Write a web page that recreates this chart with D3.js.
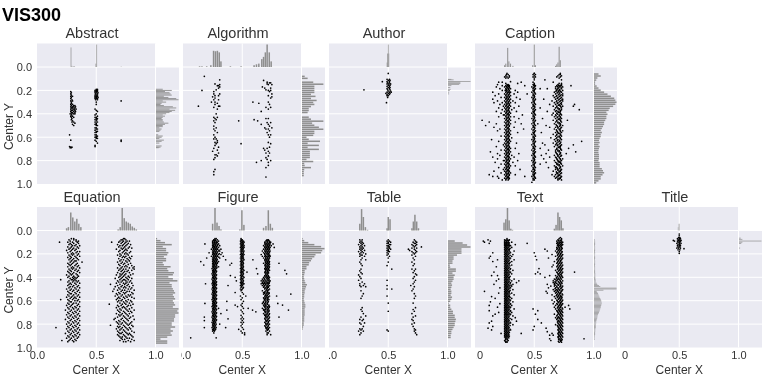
<!DOCTYPE html>
<html>
<head>
<meta charset="utf-8">
<script src="https://d3js.org/d3.v7.min.js"></script>
<style>
    html, body { margin: 0; padding: 0; background: #fff; }
    svg { filter: blur(0.35px); }
    text { font-family: "Liberation Sans", Arial, sans-serif; fill: #333; }
</style>
</head>
<body>
<div id="chart"></div>
<script>
// each row is [centerY, centerX, centerX, ...]
var abstractRows = [
    [.19,.5,.51],[.2,.49,.5,.51],[.21,.285,.49,.5,.51],[.22,.29,.49,.5,.515],[.23,.285,.495,.51],[.24,.29,.49,.5,.51],
    [.25,.285,.3,.49,.5,.51],[.26,.29,.49,.5,.515],[.27,.285,.49,.5,.51],[.28,.295,.495,.51],[.29,.285,.3,.71],[.3,.29,.5],
    [.31,.29],[.32,.285,.3,.5],[.33,.29,.31,.32],[.34,.285,.3,.31,.325],[.35,.29,.3,.32],[.36,.285,.305,.315,.33,.49],
    [.37,.29,.3,.32,.5],[.38,.285,.31,.325,.51],[.39,.29,.3,.32],[.4,.28,.295,.31,.32,.5],[.41,.29,.49],[.42,.285,.3,.51],
    [.43,.29,.31,.49,.5],[.44,.295,.5,.51],[.45,.29,.49,.505],[.46,.3,.5],[.47,.295,.31,.49,.51],[.48,.32,.5],[.49,.3,.49,.5],
    [.5,.31,.5,.51],[.52,.49,.5],[.53,.5,.51],[.54,.49],[.55,.5,.51],[.56,.49,.5],[.58,.275,.49,.5],[.59,.5,.51],[.6,.49,.5],
    [.61,.5,.51],[.625,.285,.49,.71],[.635,.5,.71],[.65,.51],[.67,.49],[.68,.275,.49],[.685,.285,.295],[.69,.28,.29]
];
var algorithmRows = [
    [.08,.18],[.11,.31],[.115,.68],[.13,.71],[.135,.73,.74],[.145,.27,.71],[.15,.31,.75,.72],[.16,.29,.3],[.17,.31,.67],
    [.18,.3,.69,.74],[.195,.28,.7],[.2,.16,.74,.72],[.21,.26,.73],[.23,.26,.31,.75],[.245,.27,.3,.72],[.255,.25,.75],
    [.265,.27,.74],[.28,.26,.3],[.3,.24,.27,.59,.72],[.31,.29,.64],[.32,.27,.73],[.335,.13,.3,.31],[.345,.26,.7,.74],
    [.36,.29,.72],[.38,.66],[.4,.28],[.43,.26,.29],[.44,.27,.7,.72],[.45,.28,.6],[.46,.26,.47,.63],[.475,.27,.71,.74],
    [.49,.66,.72],[.505,.26,.73],[.52,.28,.69,.75],[.53,.26,.7,.72],[.545,.27,.73],[.56,.29,.71],[.58,.26,.72,.74],
    [.6,.27,.73],[.615,.26,.28],[.63,.29],[.645,.27,.29,.72],[.655,.28,.49,.74],[.67,.27],[.685,.3,.73],[.695,.26,.71,.68],
    [.71,.29,.69],[.72,.25,.72],[.735,.3,.73,.7],[.75,.27,.28],[.76,.29,.72],[.775,.27,.7],[.79,.26,.71],[.8,.66,.74],
    [.815,.62,.72],[.84,.72],[.86,.7],[.875,.27],[.895,.26],[.92,.26],[.94,.7]
];
var authorRows = [
    [.055,.5],[.105,.49,.51],[.115,.5,.515],[.125,.45,.49,.51],[.135,.495,.51],[.145,.49,.505,.52],[.155,.5,.515],[.165,.49,.51],
    [.175,.5,.515],[.185,.49,.51],[.195,.295,.495,.515],[.205,.5,.52],[.215,.49,.51,.525],[.225,.48,.5,.515],[.235,.49,.51],
    [.245,.5,.49],[.26,.495],[.305,.485]
];
var captionRows = [
    [.055,.27,.5,.5,.72],[.065,.265,.28,.49,.51,.72,.71],[.075,.26,.29,.5,.7,.73],[.085,.25,.27,.29,.49,.51,.69,.72],
    [.095,.26,.28,.5,.71],[.11,.5,.59,.73],[.125,.3],[.13,.2,.23,.49,.39,.66],[.14,.26,.36,.5,.71,.73],[.15,.19,.27,.28,.49,.5,.7,.73],
    [.16,.23,.26,.28,.29,.5,.51,.42,.69,.71,.73,.81],[.17,.18,.25,.27,.29,.48,.5,.68,.71,.74],
    [.185,.21,.26,.28,.3,.49,.51,.61,.68,.7,.73,.55],[.2,.23,.255,.27,.29,.34,.49,.5,.69,.71,.74],
    [.215,.15,.26,.28,.3,.36,.48,.5,.67,.7,.73],[.23,.2,.25,.27,.29,.33,.49,.51,.68,.71,.74,.44],
    [.245,.17,.26,.28,.3,.49,.5,.66,.69,.72,.74],[.26,.22,.25,.27,.29,.35,.48,.5,.67,.7,.73],
    [.275,.15,.26,.28,.3,.38,.49,.51,.58,.68,.71,.74],[.29,.19,.25,.27,.29,.32,.49,.5,.65,.69,.72,.74],
    [.305,.16,.23,.26,.28,.3,.34,.48,.5,.67,.7,.73],[.32,.21,.25,.27,.29,.49,.51,.63,.68,.71,.73,.84],
    [.335,.24,.26,.28,.3,.37,.49,.5,.66,.69,.72,.74,.83],[.35,.2,.25,.27,.29,.33,.48,.5,.55,.68,.7,.73],
    [.365,.23,.26,.28,.31,.49,.51,.67,.71,.73,.88],[.38,.18,.25,.27,.29,.35,.49,.5,.61,.68,.7,.72],
    [.395,.22,.26,.28,.3,.48,.5,.66,.69,.72],[.41,.24,.25,.27,.29,.4,.49,.51,.65,.68,.71,.73],
    [.425,.2,.26,.28,.3,.33,.49,.5,.67,.7,.72],[.44,.25,.27,.29,.37,.48,.5,.57,.68,.71,.73],
    [.455,.06,.26,.28,.3,.49,.51,.66,.69,.72,.78],[.47,.12,.25,.27,.29,.34,.49,.5,.68,.7,.73],
    [.485,.18,.26,.28,.3,.39,.48,.5,.53,.67,.71,.72],[.5,.09,.25,.27,.29,.49,.51,.69,.72,.74,.6],
    [.515,.16,.26,.28,.33,.49,.5,.63,.68,.7,.73],[.53,.21,.25,.27,.29,.41,.48,.5,.67,.71,.72],
    [.545,.19,.26,.28,.3,.49,.51,.69,.72,.74],[.56,.25,.27,.29,.36,.49,.5,.56,.68,.7,.73],
    [.575,.26,.28,.3,.48,.5,.66,.69,.72],[.59,.22,.25,.27,.29,.49,.51,.68,.71,.73],
    [.605,.26,.28,.31,.49,.5,.64,.69,.72],[.62,.14,.25,.27,.29,.48,.5,.67,.7,.73],
    [.635,.2,.26,.28,.3,.49,.51,.68,.71,.9],[.65,.25,.27,.29,.35,.49,.5,.57,.66,.69,.72],
    [.665,.24,.26,.28,.48,.5,.59,.68,.7,.73,.83],[.68,.18,.25,.27,.29,.49,.51,.67,.71,.72],
    [.695,.26,.28,.3,.34,.49,.5,.55,.69,.72,.79],[.71,.22,.25,.27,.29,.48,.5,.62,.68,.7,.73],
    [.725,.13,.26,.28,.3,.49,.51,.68,.71,.85],[.74,.19,.25,.27,.29,.37,.49,.5,.6,.69,.72,.77],
    [.755,.21,.26,.28,.31,.48,.5,.56,.67,.7,.73],[.77,.15,.25,.27,.29,.33,.49,.51,.63,.68,.71],
    [.785,.19,.26,.28,.3,.49,.5,.58,.69,.72,.74],[.8,.24,.25,.27,.29,.36,.48,.5,.67,.7,.73],
    [.815,.17,.26,.28,.32,.49,.51,.6,.68,.71,.72],[.83,.22,.25,.27,.29,.49,.5,.55,.69,.7,.73],
    [.845,.26,.28,.3,.34,.48,.5,.67,.71,.74],[.86,.2,.25,.27,.29,.49,.51,.62,.68,.69,.72],
    [.875,.24,.26,.28,.38,.49,.5,.68,.7,.73],[.89,.16,.25,.27,.29,.48,.5,.66,.71,.72],
    [.905,.22,.26,.28,.3,.49,.51,.69,.7,.73],[.92,.12,.25,.27,.29,.34,.49,.5,.65,.68,.71],
    [.935,.15,.19,.26,.28,.42,.48,.5,.67,.7,.73],[.95,.2,.25,.27,.29,.49,.51,.68,.71,.72],
    [.965,.23,.26,.28,.49,.5,.7,.73],[.985,.48]
];
// the solid cores of the three columns
var captionCore = [
    [.157,.275,.286,.496,.705,.724],[.167,.265,.284,.505,.695,.718],[.178,.272,.29,.494,.702,.727],[.192,.264,.283,.503,.692,.715],
    [.207,.268,.287,.497,.683,.706,.722],[.222,.274,.292,.505,.693,.716],[.237,.262,.284,.496,.704,.727],[.252,.27,.289,.503,.684,.712],
    [.267,.263,.281,.494,.694,.722],[.282,.272,.291,.506,.703,.729],[.297,.262,.283,.497,.686,.713],[.312,.27,.286,.503,.695,.724],
    [.327,.264,.289,.495,.704,.716],[.342,.272,.281,.506,.69,.726],[.357,.262,.286,.497,.701,.714],[.372,.27,.283,.503,.687,.722],
    [.387,.265,.289,.495,.704,.712],[.402,.273,.281,.505,.696,.724],[.417,.262,.286,.497,.684,.713],[.432,.27,.283,.503,.694,.722],
    [.447,.265,.289,.495,.703,.716],[.462,.273,.281,.506,.69,.724],[.477,.262,.286,.497,.7,.713],[.492,.27,.283,.503,.684,.722],
    [.507,.265,.289,.495,.695,.714],[.522,.273,.281,.505,.7,.724],[.537,.262,.286,.497,.687,.713],[.552,.27,.283,.503,.695,.722],
    [.567,.265,.289,.495,.703,.716],[.582,.273,.281,.505,.69,.724],[.597,.262,.286,.497,.7,.713],[.612,.27,.283,.503,.684,.722],
    [.627,.265,.289,.495,.695,.714],[.642,.273,.281,.505,.7,.724],[.657,.262,.286,.497,.687,.713],[.672,.27,.283,.503,.695,.722],
    [.687,.265,.289,.495,.703,.716],[.702,.273,.281,.505,.69,.724],[.717,.262,.286,.497,.7,.713],[.732,.27,.283,.503,.684,.722],
    [.747,.265,.289,.495,.695,.714],[.762,.273,.281,.505,.7,.724],[.777,.262,.286,.497,.687,.713],[.792,.27,.283,.503,.695,.722],
    [.807,.265,.289,.495,.703,.716],[.822,.273,.281,.505,.69,.724],[.837,.262,.286,.497,.7,.713],[.852,.27,.283,.503,.684,.722],
    [.867,.265,.289,.495,.695,.714],[.882,.273,.281,.505,.7,.724],[.897,.262,.286,.497,.687,.713],[.912,.27,.283,.503,.695,.722],
    [.927,.265,.289,.495,.703,.716],[.942,.273,.281,.505,.69,.724],[.957,.262,.286,.497,.7,.713]
];
var equationRows = [
    [.07,.29,.31,.73,.74],[.08,.27,.31,.33,.71,.75,.72],[.09,.28,.33,.35,.7,.73,.76,.78],[.1,.19,.26,.3,.34,.63,.69,.72,.75],
    [.11,.28,.31,.35,.71,.74,.77],[.12,.27,.29,.33,.68,.73,.76,.79],[.13,.3,.32,.36,.7,.72,.75],[.14,.26,.29,.34,.69,.74,.78],
    [.15,.28,.31,.35,.71,.73,.77,.8],[.16,.27,.3,.33,.67,.72,.75],[.17,.25,.29,.32,.7,.74,.76],[.18,.28,.34,.36,.69,.73,.79],
    [.19,.26,.3,.33,.72,.75,.78],[.2,.29,.31,.35,.7,.74,.76],[.21,.27,.3,.34,.68,.71,.77],[.22,.28,.32,.36,.7,.73,.75,.8],
    [.23,.26,.29,.33,.72,.74,.78],[.24,.28,.31,.34,.69,.76,.79],[.25,.27,.3,.35,.71,.73,.77],[.26,.29,.32,.33,.7,.75,.78],
    [.27,.28,.31,.38,.68,.72,.76],[.28,.26,.3,.34,.71,.74,.79],[.29,.27,.29,.33,.69,.73,.77],[.3,.28,.32,.35,.7,.75,.8],
    [.31,.26,.3,.34,.72,.74,.76,.82],[.32,.29,.31,.36,.68,.71,.78,.81],[.33,.27,.3,.33,.7,.73,.75,.82],[.34,.28,.32,.35,.69,.72,.77,.8],
    [.35,.26,.29,.34,.71,.74,.76],[.36,.27,.31,.36,.68,.73,.78],[.37,.28,.3,.33,.7,.72,.75,.81],[.38,.25,.29,.34,.67,.71,.74,.79],
    [.39,.27,.31,.35,.7,.73,.77],[.4,.26,.3,.32,.34,.69,.72,.75,.78],[.41,.28,.31,.33,.66,.71,.76,.8],[.42,.2,.29,.3,.32,.7,.73,.74,.77],
    [.43,.27,.31,.33,.35,.68,.72,.75,.79],[.44,.26,.3,.34,.69,.71,.76,.78],[.45,.28,.32,.36,.67,.73,.75,.8],[.46,.27,.29,.33,.62,.7,.74,.77],
    [.47,.26,.31,.35,.68,.72,.76,.81],[.48,.28,.3,.34,.66,.71,.74,.78],[.49,.27,.32,.36,.69,.73,.75,.8],[.5,.25,.29,.33,.65,.7,.77,.79],
    [.51,.28,.31,.35,.68,.72,.74,.82],[.52,.26,.3,.34,.64,.71,.76,.78],[.53,.27,.32,.36,.69,.73,.75,.8],[.54,.28,.29,.33,.67,.7,.74,.81],
    [.55,.26,.31,.35,.68,.72,.77,.79],[.56,.27,.3,.34,.66,.71,.75,.78],[.57,.25,.29,.32,.36,.69,.73,.76,.8],[.58,.28,.31,.33,.68,.7,.74,.82],
    [.59,.2,.26,.3,.35,.67,.72,.77],[.6,.27,.32,.34,.69,.71,.75,.79],[.61,.28,.29,.36,.68,.73,.76,.8],[.62,.26,.31,.33,.7,.74,.78],
    [.63,.27,.3,.35,.61,.72,.75,.81],[.64,.25,.29,.34,.68,.71,.77,.79],[.65,.28,.32,.36,.69,.73,.76],[.66,.26,.3,.33,.67,.72,.74,.8],
    [.67,.27,.31,.35,.7,.75,.78],[.68,.24,.29,.34,.68,.71,.76,.82],[.69,.28,.32,.36,.69,.73,.77,.79],[.7,.26,.3,.33,.7,.74,.8],
    [.71,.27,.31,.35,.67,.72,.75,.78],[.72,.25,.29,.34,.69,.71,.76],[.73,.28,.32,.36,.7,.73,.77,.81],[.74,.26,.3,.33,.68,.74,.79],
    [.75,.27,.31,.35,.66,.72,.75,.78],[.76,.24,.29,.34,.65,.71,.76,.82],[.77,.28,.32,.36,.69,.73,.77],[.78,.26,.3,.33,.67,.7,.74,.8],
    [.79,.27,.31,.35,.68,.72,.75,.79],[.8,.25,.29,.34,.69,.71,.76,.78],[.81,.28,.32,.36,.62,.73,.77,.8],[.82,.26,.3,.33,.68,.7,.74,.81],
    [.83,.16,.27,.31,.35,.69,.72,.75,.78],[.84,.25,.29,.34,.67,.71,.76,.79],[.85,.28,.32,.36,.7,.73,.77],[.86,.26,.3,.33,.68,.74,.8],
    [.87,.27,.31,.35,.69,.72,.75,.82],[.88,.24,.29,.34,.7,.71,.76,.78],[.89,.28,.32,.36,.68,.73,.77,.79],[.9,.26,.3,.33,.69,.74,.8],
    [.91,.27,.31,.35,.7,.72,.75,.81],[.92,.25,.29,.34,.71,.76,.78],[.93,.28,.32,.72,.74,.8],[.94,.21,.27,.3,.33,.7,.77,.82],
    [.95,.26,.31,.73,.75,.79]
];
var figureRows = [
    [.07,.27,.28,.49],[.08,.26,.27,.29,.49,.5,.71,.72],[.09,.25,.265,.28,.3,.485,.5,.51,.7,.715,.73],
    [.1,.25,.265,.28,.29,.49,.5,.515,.69,.71,.73,.74],[.115,.185,.25,.265,.28,.3,.485,.5,.51,.69,.705,.72,.735,.76],
    [.13,.25,.26,.275,.29,.31,.49,.5,.515,.68,.7,.715,.73,.745],[.145,.25,.265,.28,.3,.485,.5,.515,.69,.705,.72,.735,.77],
    [.16,.24,.26,.275,.29,.32,.49,.505,.68,.7,.715,.73],[.175,.25,.265,.28,.3,.31,.485,.5,.515,.67,.69,.705,.72,.735],
    [.19,.22,.25,.26,.275,.29,.33,.49,.51,.68,.7,.715,.73],[.205,.25,.265,.28,.3,.32,.485,.5,.515,.66,.69,.71,.725],
    [.22,.24,.26,.275,.29,.34,.49,.505,.67,.69,.705,.72,.735],[.235,.2,.25,.265,.28,.31,.485,.5,.51,.68,.7,.715,.73],
    [.25,.25,.26,.275,.29,.36,.49,.515,.59,.69,.705,.72],[.266,.15,.25,.265,.28,.3,.485,.5,.7,.715,.73],
    [.28,.25,.26,.275,.29,.41,.49,.51,.81,.68,.705,.72],[.295,.175,.25,.265,.28,.396,.485,.5,.69,.71,.725],
    [.31,.25,.26,.275,.3,.49,.51,.7,.715,.73],[.325,.245,.265,.28,.485,.5,.62,.69,.705,.72],
    [.34,.25,.26,.275,.49,.515,.86,.7,.715,.73],[.355,.25,.265,.28,.485,.5,.54,.69,.71,.72],
    [.37,.245,.26,.275,.49,.51,.874,.7,.715,.63],[.385,.25,.265,.28,.4,.485,.5,.69,.705,.72],
    [.4,.25,.26,.275,.44,.49,.515,.68,.7,.715,.73],[.415,.245,.265,.28,.485,.5,.67,.69,.71,.725],
    [.43,.25,.26,.275,.45,.49,.51,.66,.68,.7,.72,.735],[.445,.25,.265,.28,.485,.5,.67,.69,.71,.725],
    [.455,.19,.245,.26,.275,.49,.515,.66,.68,.7,.72],[.47,.25,.265,.28,.38,.485,.5,.67,.69,.71,.73],
    [.485,.25,.26,.275,.49,.51,.68,.7,.715,.72],[.5,.245,.265,.28,.485,.5,.69,.705,.73],
    [.515,.25,.26,.275,.49,.67,.7,.715],[.53,.25,.265,.28,.44,.5,.68,.69,.71,.725],
    [.543,.245,.26,.275,.51,.91,.7,.72,.68],[.56,.25,.265,.28,.485,.53,.69,.705,.73,.79],
    [.575,.25,.26,.275,.5,.68,.7,.715],[.59,.245,.265,.28,.49,.69,.71,.725],[.605,.25,.26,.275,.37,.51,.68,.7,.72],
    [.623,.185,.25,.265,.28,.5,.67,.69,.71,.8],[.637,.25,.26,.275,.44,.49,.84,.68,.7,.725],
    [.65,.245,.265,.28,.46,.5,.69,.71,.73],[.665,.25,.26,.275,.3,.51,.67,.7,.72,.55],
    [.68,.25,.265,.28,.37,.49,.587,.89,.68,.69,.71,.725],[.695,.245,.26,.275,.615,.5,.69,.7,.72],
    [.71,.25,.265,.28,.32,.51,.68,.71,.73],[.725,.25,.26,.275,.49,.69,.7,.72],
    [.74,.18,.245,.265,.28,.5,.81,.7,.71,.73],[.755,.25,.26,.275,.38,.49,.51,.69,.72],
    [.77,.18,.25,.265,.28,.5,.7,.71,.73],[.785,.245,.26,.275,.49,.51,.69,.72],
    [.8,.25,.265,.28,.31,.5,.7,.71,.73],[.815,.25,.26,.275,.49,.69,.72],
    [.83,.18,.245,.265,.28,.36,.5,.7,.71,.73],[.845,.25,.26,.275,.47,.51,.71,.72],
    [.86,.25,.265,.49,.7,.73],[.875,.26,.5,.52,.71,.72],[.89,.52,.71,.74],[.917,.065,.28]
];
var figureCore = [
    [.085,.258,.272,.494,.705,.722],[.107,.257,.273,.286,.493,.507,.698,.716,.728],[.122,.258,.272,.292,.494,.506,.696,.712,.727],
    [.137,.255,.268,.284,.493,.507,.692,.709,.724],[.152,.257,.271,.287,.495,.508,.696,.713,.727],[.167,.254,.268,.283,.304,.494,.506,.692,.708,.724],
    [.182,.258,.272,.288,.495,.507,.696,.712,.727],[.197,.255,.269,.283,.306,.493,.506,.69,.708,.722],[.212,.258,.272,.288,.495,.507,.696,.718,.732],
    [.227,.255,.268,.283,.302,.494,.506,.697,.712,.727],[.243,.258,.272,.286,.495,.507,.696,.71,.725],[.258,.255,.269,.283,.493,.506,.692,.708,.722],
    [.273,.258,.272,.288,.495,.507,.696,.712,.727],[.288,.255,.269,.283,.494,.506,.698,.715,.73],[.303,.258,.268,.285,.495,.507,.694,.708,.722],
    [.318,.255,.27,.286,.493,.506,.697,.712,.727],[.333,.258,.272,.495,.507,.694,.708,.722],[.348,.255,.268,.283,.494,.506,.698,.715],
    [.363,.258,.27,.495,.507,.694,.708,.722],[.378,.255,.268,.283,.493,.506,.698,.712],[.393,.258,.27,.495,.507,.692,.708,.722],
    [.408,.255,.268,.283,.494,.506,.685,.708,.722],[.423,.258,.27,.495,.507,.675,.692,.712,.727],[.438,.255,.268,.283,.493,.506,.675,.692,.708,.73],
    [.45,.258,.27,.495,.507,.674,.69,.71,.727],[.462,.255,.268,.283,.494,.506,.68,.698,.718],[.478,.258,.27,.495,.684,.708,.722],
    [.493,.255,.268,.283,.506,.692,.712],[.508,.258,.27,.495,.708,.722],[.523,.255,.268,.283,.692,.712],[.538,.258,.27,.688,.708,.727],
    [.553,.255,.268,.283,.698,.712],[.568,.258,.27,.692,.708,.722],[.583,.255,.268,.283,.684,.698,.716],[.598,.258,.27,.692,.712],
    [.615,.255,.268,.283,.678,.698,.716],[.63,.258,.27,.692,.712],[.645,.255,.268,.283,.684,.698,.722],[.658,.258,.27,.692,.712,.727],
    [.673,.255,.268,.283,.682,.698,.716],[.688,.258,.27,.692,.712,.727],[.703,.255,.268,.283,.698,.716],[.718,.258,.27,.692,.708,.727],
    [.733,.255,.268,.283,.698,.716],[.748,.258,.27,.692,.708,.727],[.763,.255,.268,.283,.698,.716],[.778,.258,.27,.702,.72],
    [.793,.255,.268,.698,.716],[.808,.258,.27,.702,.72],[.823,.255,.268,.698,.716],[.838,.258,.27,.702,.72],[.853,.256,.268,.712]
];
var tableRows = [
    [.08,.26,.28,.5,.72],[.09,.27,.49,.51,.73],[.1,.26,.28,.5,.52,.71,.74],[.11,.27,.29,.49,.5,.73,.72],[.12,.25,.28,.51,.52,.7,.74],
    [.13,.27,.3,.49,.5,.71,.73],[.14,.26,.28,.5,.51,.72,.78],[.15,.27,.29,.49,.51,.7,.74],[.16,.26,.28,.5,.52,.67,.72],
    [.17,.27,.3,.49,.5,.68,.73],[.18,.25,.28,.5,.51,.7,.74],[.19,.27,.29,.49,.71,.73],[.2,.26,.31,.5,.72],[.21,.27,.28,.49,.7],
    [.22,.26,.3,.51,.73],[.235,.28,.5,.71],[.25,.27,.31,.72],[.27,.26,.5,.7],[.285,.27,.72],[.3,.28,.49,.71],[.33,.27,.53,.7,.73],
    [.345,.26,.72],[.36,.27,.71],[.37,.28,.73],[.38,.25,.74],[.395,.26,.72],[.41,.27,.71],[.425,.25,.49,.73],[.44,.28,.72],
    [.455,.26,.3,.71],[.47,.26,.29,.49,.69],[.48,.27,.31,.72],[.5,.49,.53,.71],[.515,.27,.7],[.54,.29,.72],[.56,.28,.49,.73],
    [.58,.27,.72],[.62,.5,.71],[.66,.28,.73],[.675,.27,.71],[.69,.28,.5,.72],[.71,.29,.7],[.73,.31,.73],[.74,.27,.71],[.76,.26,.29,.7],
    [.77,.28,.71],[.79,.26,.3,.72],[.8,.27,.7],[.82,.29,.71],[.84,.26,.28,.72],[.85,.27,.49,.73],[.86,.25,.29,.5,.72],[.875,.27,.73],[.89,.26,.74]
];
var textRows = [
    [.06,.72],[.07,.27,.71,.73],[.08,.11,.25,.27,.29,.7,.73],[.09,.07,.13,.25,.265,.28,.69,.71,.73],[.1,.08,.25,.265,.28,.31,.7,.72,.74],
    [.11,.12,.25,.265,.28,.44,.69,.71,.73],[.12,.25,.265,.28,.34,.7,.72,.74],[.13,.25,.265,.28,.3,.7,.71,.73],
    [.145,.25,.265,.28,.31,.69,.71,.73],[.16,.25,.265,.28,.29,.59,.69,.71,.73],[.175,.25,.265,.28,.33,.61,.68,.71,.73],
    [.19,.15,.25,.265,.28,.3,.5,.69,.71,.73],[.205,.25,.265,.28,.32,.65,.7,.72,.74],[.22,.13,.25,.265,.28,.31,.51,.68,.71,.73],
    [.235,.12,.25,.265,.28,.3,.62,.7,.72,.74],[.25,.19,.25,.265,.28,.33,.52,.69,.71,.73],[.265,.15,.25,.265,.28,.31,.67,.7,.72],
    [.28,.25,.265,.28,.29,.69,.71,.73],[.295,.25,.265,.28,.31,.66,.7,.72,.74],[.31,.18,.25,.265,.28,.65,.69,.71,.73],
    [.325,.25,.265,.28,.3,.54,.7,.72,.74],[.34,.25,.265,.28,.32,.68,.71,.73],[.355,.16,.25,.265,.28,.3,.53,.69,.72,.74,.84],
    [.37,.25,.265,.28,.31,.51,.55,.7,.71,.73],[.385,.14,.19,.25,.265,.28,.63,.68,.71,.73],[.4,.25,.265,.28,.29,.59,.69,.72,.74],
    [.415,.2,.25,.265,.28,.33,.67,.7,.71,.73],[.43,.18,.25,.265,.28,.31,.37,.66,.69,.72,.74],[.445,.25,.265,.28,.3,.35,.66,.68,.71,.73],
    [.46,.16,.25,.265,.28,.32,.61,.67,.7,.72],[.475,.25,.265,.28,.31,.64,.67,.69,.72,.74],[.49,.21,.25,.265,.28,.3,.62,.68,.7,.73],
    [.505,.25,.265,.28,.32,.66,.69,.71,.74],[.52,.08,.25,.265,.28,.29,.6,.67,.7,.73],[.535,.2,.25,.265,.28,.31,.61,.68,.71,.72],
    [.55,.25,.265,.28,.33,.65,.69,.71,.74],[.565,.14,.25,.265,.28,.29,.67,.7,.72,.73],[.58,.17,.25,.265,.28,.31,.68,.71,.73],
    [.595,.25,.265,.28,.3,.65,.69,.72,.74],[.61,.13,.25,.265,.28,.32,.67,.7,.71,.73],[.625,.21,.25,.265,.28,.3,.66,.69,.72,.74],
    [.64,.12,.25,.265,.28,.31,.68,.71,.73,.79],[.655,.19,.25,.265,.28,.3,.67,.7,.72,.76],[.67,.25,.265,.28,.33,.49,.68,.71,.74,.8],
    [.685,.12,.25,.265,.28,.3,.53,.69,.71,.73],[.7,.2,.25,.265,.28,.31,.7,.72,.74],[.715,.17,.25,.265,.28,.3,.51,.67,.71,.73],
    [.73,.15,.25,.265,.28,.32,.69,.72,.74],[.745,.25,.265,.28,.34,.68,.7,.71,.73],[.76,.25,.265,.28,.31,.53,.69,.72,.74],
    [.775,.14,.25,.265,.28,.35,.7,.71,.73],[.79,.12,.25,.265,.28,.3,.56,.7,.72,.74],[.805,.25,.265,.28,.32,.68,.71,.73],
    [.82,.15,.25,.265,.28,.5,.7,.72,.74],[.835,.11,.25,.265,.28,.6,.71,.73],[.85,.14,.25,.265,.28,.3,.49,.7,.72,.74],
    [.865,.25,.265,.28,.61,.71,.73],[.88,.22,.25,.265,.28,.39,.65,.7,.72,.74],[.895,.25,.265,.28,.63,.66,.71,.73],
    [.91,.25,.265,.28,.7,.72,.74],[.925,.26,.27,.63,.71,.73,.92],[.94,.25,.28,.64,.72,.73],[.955,.26,.27,.71,.73]
];
var textCore = [
    [.085,.258,.272,.285,.705,.722],[.105,.258,.272,.29,.696,.715,.732],[.116,.256,.27,.288,.704,.726],[.126,.258,.273,.292,.696,.716,.732],
    [.138,.256,.27,.288,.704,.724],[.152,.258,.273,.296,.697,.716,.736],[.168,.256,.27,.288,.702,.72],[.182,.258,.273,.294,.696,.716,.736],
    [.197,.256,.27,.288,.704,.724],[.212,.258,.273,.296,.696,.716,.734],[.227,.256,.27,.288,.704,.724],[.242,.258,.273,.294,.696,.716,.735],
    [.257,.256,.27,.288,.704,.724],[.272,.258,.273,.296,.696,.716,.734],[.287,.256,.27,.288,.704,.724],[.302,.258,.273,.294,.696,.716,.735],
    [.317,.256,.27,.288,.704,.724],[.332,.258,.273,.296,.696,.716,.734],[.347,.256,.27,.288,.704,.724],[.362,.258,.273,.294,.696,.716,.735],
    [.377,.256,.27,.288,.704,.724],[.392,.258,.273,.296,.696,.716,.734],[.407,.256,.27,.288,.686,.704,.724],[.422,.258,.273,.294,.682,.696,.716],
    [.437,.256,.27,.288,.676,.704,.724],[.452,.258,.273,.296,.672,.69,.716,.734],[.467,.256,.27,.288,.304,.676,.704,.724],[.482,.258,.273,.294,.69,.716,.735],
    [.497,.256,.27,.288,.676,.704,.724],[.512,.258,.273,.296,.68,.696,.716,.734],[.527,.256,.27,.288,.686,.704,.724],[.542,.258,.273,.294,.696,.716,.735],
    [.557,.256,.27,.288,.686,.704,.724],[.572,.258,.273,.296,.696,.716,.734],[.587,.256,.27,.288,.704,.724],[.602,.258,.273,.294,.696,.716,.735],
    [.617,.256,.27,.288,.704,.724],[.632,.258,.273,.296,.696,.716,.734],[.647,.256,.27,.288,.704,.724],[.662,.258,.273,.294,.696,.716,.735],
    [.677,.256,.27,.288,.704,.724],[.692,.258,.273,.296,.696,.716,.734],[.707,.256,.27,.288,.704,.724],[.722,.258,.273,.294,.696,.716,.735],
    [.737,.256,.27,.288,.704,.724],[.752,.258,.273,.296,.696,.716,.734],[.767,.256,.27,.288,.704,.724],[.782,.258,.273,.294,.696,.716,.735],
    [.797,.256,.27,.288,.704,.724],[.812,.258,.273,.296,.696,.716,.734],[.827,.256,.27,.288,.704,.724],[.842,.258,.273,.294,.704,.716,.735],
    [.857,.256,.27,.288,.706,.724],[.872,.258,.273,.29,.706,.716,.734],[.887,.256,.27,.286,.704,.724],[.902,.258,.273,.29,.706,.716,.735],
    [.917,.256,.27,.285,.704,.724],[.932,.258,.273,.706,.718,.735],[.947,.256,.27,.704,.724]
];
var titleRows = [
    [.03,.5],[.045,.5],[.06,.495,.505],[.07,.485,.5,.51],[.08,.49,.505],[.085,.45,.495,.515],[.09,.46,.485,.5,.51],
    [.1,.49,.505],[.11,.48,.5,.515],[.12,.49,.505],[.13,.485,.5,.51],[.14,.49,.505],[.15,.48,.495,.51],[.155,.54],
    [.165,.49,.505],[.18,.5],[.195,.5]
];

// marginal histograms: [bin centre, bar length as % of the margin]
var abstractTop = [[.287,87],[.295,5],[.31,3],[.318,3],[.497,15],[.504,100],[.71,2]];
var algorithmTop = [[.14,3],[.16,3],[.2,3],[.235,8],[.258,72],[.274,70],[.29,72],[.306,65],[.32,25],[.4,3],[.49,3],[.6,8],[.62,12],[.64,15],[.665,35],[.68,45],[.695,65],[.71,100],[.728,65],[.744,25]];
var authorTop = [[.49,20],[.495,60],[.5,100],[.505,60]];
var captionTop = [[.25,8],[.26,15],[.276,85],[.286,25],[.3,15],[.32,5],[.487,8],[.5,100],[.51,8],[.68,5],[.69,12],[.7,20],[.71,90],[.72,30]];
var equationTop = [[.25,10],[.265,15],[.285,80],[.302,58],[.319,40],[.336,52],[.353,30],[.37,15],[.685,5],[.702,15],[.719,100],[.736,55],[.753,40],[.77,35],[.787,30],[.804,18],[.821,12],[.838,5]];
var figureTop = [[.25,30],[.27,100],[.287,35],[.304,20],[.32,5],[.48,5],[.497,90],[.514,25],[.68,12],[.7,20],[.72,90],[.737,30],[.754,12]];
var tableTop = [[.26,30],[.275,95],[.29,60],[.307,15],[.325,3],[.49,10],[.5,60],[.515,50],[.7,10],[.712,40],[.725,70],[.74,40],[.755,10]];
var textTop = [[.245,35],[.26,50],[.274,100],[.288,45],[.302,8],[.316,3],[.67,8],[.684,25],[.7,80],[.714,60],[.728,45],[.742,10]];
var titleTop = [[.49,15],[.497,30],[.504,30]];

var abstractRight = [[.19,30],[.2,70],[.21,40],[.22,60],[.23,65],[.24,70],[.25,35],[.26,55],[.27,90],[.28,100],[.29,30],[.3,45],[.31,25],[.32,20],[.33,35],[.34,75],[.35,90],[.36,60],[.37,85],[.38,70],[.39,60],[.4,45],[.41,30],[.42,40],[.43,30],[.44,25],[.45,30],[.46,30],[.47,35],[.48,55],[.49,40],[.5,30],[.51,30],[.52,15],[.53,25],[.54,20],[.55,15],[.58,10],[.59,30],[.6,25],[.61,15],[.625,35],[.635,25],[.65,15],[.675,25],[.685,20],[.69,12]];
var algorithmRight = [[.08,12],[.097,25],[.13,50],[.147,95],[.165,55],[.182,55],[.2,55],[.217,55],[.234,40],[.251,60],[.269,40],[.286,65],[.303,50],[.32,55],[.338,40],[.355,30],[.372,30],[.389,25],[.429,30],[.446,40],[.463,95],[.48,45],[.498,55],[.515,75],[.532,95],[.55,55],[.567,55],[.584,50],[.601,20],[.618,30],[.635,80],[.652,25],[.67,75],[.687,25],[.704,75],[.722,35],[.739,35],[.756,35],[.773,35],[.79,20],[.808,50],[.825,10],[.842,12],[.86,40],[.877,10],[.894,8],[.911,8],[.928,8]];
var authorRight = [[.105,15],[.11,25],[.125,100],[.13,55],[.14,55],[.15,50],[.16,15],[.175,10],[.19,12],[.2,8],[.215,5],[.23,5]];
var captionRight = [[.06,20],[.077,30],[.094,15],[.112,10],[.129,5],[.146,5],[.163,12],[.18,20],[.198,30],[.215,45],[.232,60],[.25,75],[.267,90],[.284,95],[.301,100],[.318,95],[.336,85],[.353,70],[.37,65],[.387,55],[.404,60],[.422,55],[.439,55],[.456,50],[.473,45],[.49,45],[.508,40],[.525,35],[.542,30],[.56,35],[.577,30],[.594,30],[.611,25],[.628,22],[.646,25],[.663,20],[.68,25],[.697,22],[.714,20],[.732,20],[.749,22],[.766,22],[.784,22],[.801,20],[.818,25],[.835,25],[.852,25],[.87,35],[.887,40],[.904,45],[.921,38],[.938,30],[.956,30],[.973,20],[.99,10]];
var equationRight = [[.07,5],[.087,20],[.104,40],[.121,70],[.138,30],[.155,45],[.172,45],[.19,55],[.207,50],[.224,35],[.241,45],[.258,45],[.275,30],[.293,35],[.31,65],[.327,50],[.344,55],[.361,80],[.378,75],[.396,55],[.413,75],[.43,95],[.447,60],[.464,70],[.481,70],[.499,75],[.516,80],[.533,85],[.55,75],[.567,80],[.584,85],[.602,75],[.619,80],[.636,85],[.653,75],[.67,100],[.688,95],[.705,100],[.722,85],[.739,85],[.756,80],[.773,80],[.791,70],[.808,70],[.825,85],[.842,65],[.859,75],[.876,65],[.894,70],[.911,50],[.928,20],[.945,50],[.962,50]];
var figureRight = [[.07,3],[.087,10],[.104,28],[.121,55],[.138,85],[.155,100],[.172,90],[.19,85],[.207,60],[.224,55],[.241,45],[.258,40],[.275,32],[.293,30],[.31,20],[.327,20],[.344,12],[.361,12],[.378,10],[.396,8],[.413,10],[.43,12],[.447,15],[.464,22],[.481,18],[.499,15],[.516,12],[.533,12],[.55,10],[.567,10],[.584,8],[.602,10],[.619,12],[.636,15],[.653,15],[.67,12],[.688,12],[.705,12],[.722,12],[.739,10],[.756,10],[.773,10],[.791,8],[.808,8],[.825,5],[.842,3]];
var tableRight = [[.09,30],[.107,65],[.124,85],[.141,100],[.158,60],[.176,60],[.193,60],[.21,40],[.227,25],[.244,25],[.261,20],[.279,20],[.296,8],[.313,10],[.33,35],[.347,35],[.364,20],[.382,30],[.399,25],[.416,25],[.433,20],[.45,15],[.467,18],[.485,15],[.502,12],[.519,15],[.536,15],[.553,12],[.57,18],[.588,15],[.605,10],[.622,3],[.639,10],[.656,10],[.673,15],[.691,22],[.708,22],[.725,30],[.742,30],[.759,35],[.776,33],[.794,30],[.811,30],[.828,25],[.845,20],[.862,15],[.879,15],[.897,12],[.914,12]];
var textRight = [[.08,4],[.09,5],[.1,5],[.11,5],[.12,5],[.13,4],[.14,5],[.15,5],[.16,5],[.17,5],[.18,4],[.19,5],[.2,5],[.21,4],[.22,5],[.23,5],[.24,5],[.25,4],[.26,5],[.27,5],[.28,5],[.29,5],[.3,4],[.31,5],[.32,5],[.33,5],[.34,5],[.35,5],[.36,5],[.37,6],[.38,6],[.39,6],[.4,6],[.41,6],[.42,7],[.43,8],[.44,8],[.45,12],[.46,15],[.47,22],[.48,28],[.492,100],[.5,100],[.51,42],[.52,12],[.53,15],[.54,18],[.55,20],[.56,23],[.57,25],[.58,28],[.59,30],[.6,32],[.61,33],[.62,35],[.63,33],[.64,32],[.65,30],[.66,30],[.67,28],[.68,26],[.69,24],[.7,22],[.71,20],[.72,18],[.73,16],[.74,15],[.75,14],[.76,12],[.77,11],[.78,10],[.79,10],[.8,9],[.81,8],[.82,8],[.83,8],[.84,7],[.85,6],[.86,6],[.87,5],[.88,5],[.89,5],[.9,4],[.91,4],[.92,3],[.93,3]];
var titleRight = [[.065,8],[.075,15],[.09,100],[.1,15],[.11,10],[.15,5]];

var panelNames = ["Abstract", "Algorithm", "Author", "Caption", "Equation", "Figure", "Table", "Text", "Title"];
var panelRows = [abstractRows, algorithmRows, authorRows, captionRows.concat(captionCore), equationRows,
    figureRows.concat(figureCore), tableRows, textRows.concat(textCore), titleRows];
var panelTop = [abstractTop, algorithmTop, authorTop, captionTop, equationTop, figureTop, tableTop, textTop, titleTop];
var panelRight = [abstractRight, algorithmRight, authorRight, captionRight, equationRight, figureRight, tableRight, textRight, titleRight];
var xTicks = [0, 0.5, 1];
var yTicks = [0, 0.2, 0.4, 0.6, 0.8, 1];

// -- layout --
var panelLeft = [37, 183, 329, 475, 37, 183, 329, 475, 620];
var rowTop = [67, 230.5];
var mainW = 118.5, mainH = 117, marginSize = 23.5;
var bg = "#EAEAF2", barColour = "#8e8e8e";
// how far the next panel's box eats the "0.0" label, per panel of row two
var labelClip = [null, -2, -1, 1, 1];
// bar thickness for the histograms, panels with many bins come out thin
var topBarW = { Abstract: 0.7, Author: 0.7, Caption: 1, Title: 0.4 };
var rightBarH = { Abstract: 0.9, Author: 0.7, Text: 0.7, Title: 0.7 };

var svg = d3.select("#chart").append("svg")
    .attr("width", 764)
    .attr("height", 380);

svg.append("text")
    .attr("x", 2)
    .attr("y", 21)
    .attr("font-size", 18)
    .attr("font-weight", "bold")
    .style("fill", "#000")
    .text("VIS300");

var x = d3.scaleLinear().domain([0, 1]).range([0, mainW]);
var y = d3.scaleLinear().domain([0, 1]).range([0, mainH]);
var barLen = d3.scaleLinear().domain([0, 100]).range([0, marginSize - 1]);

panelNames.forEach(function(name, i) {
    var row = i < 4 ? 0 : 1;
    var g = svg.append("g")
        .attr("transform", "translate(" + panelLeft[i] + "," + rowTop[row] + ")");

    // backgrounds
    g.append("rect").attr("width", mainW + marginSize).attr("height", mainH).attr("fill", bg);
    g.append("rect").attr("y", -marginSize).attr("width", mainW).attr("height", marginSize).attr("fill", bg);

    // grid
    g.selectAll(".gx").data(xTicks.slice(1)).enter().append("line")
        .attr("x1", function(d) { return x(d); })
        .attr("x2", function(d) { return x(d); })
        .attr("y1", -marginSize)
        .attr("y2", mainH)
        .attr("stroke", "#fff")
        .attr("stroke-width", 1);
    g.selectAll(".gy").data(yTicks.slice(0, 5)).enter().append("line")
        .attr("x1", 0)
        .attr("x2", mainW + marginSize)
        .attr("y1", function(d) { return y(d); })
        .attr("y2", function(d) { return y(d); })
        .attr("stroke", "#fff")
        .attr("stroke-width", 1);

    // top histogram
    var topW = topBarW[name] || 1.5;
    g.selectAll(".top").data(panelTop[i]).enter().append("rect")
        .attr("x", function(d) { return x(d[0]) - topW / 2; })
        .attr("y", function(d) { return -barLen(d[1]); })
        .attr("width", topW)
        .attr("height", function(d) { return barLen(d[1]); })
        .attr("fill", barColour);

    // right histogram
    var rightH = rightBarH[name] || 1.5;
    g.selectAll(".right").data(panelRight[i]).enter().append("rect")
        .attr("x", mainW + 0.5)
        .attr("y", function(d) { return y(d[0]) - rightH / 2; })
        .attr("width", function(d) { return barLen(d[1]); })
        .attr("height", rightH)
        .attr("fill", barColour);

    // scatter, each row is a y and its x values
    var points = panelRows[i].flatMap(function(r) {
        return r.slice(1).map(function(v) { return [v, r[0]]; });
    });
    g.selectAll(".dot").data(points).enter().append("circle")
        .attr("cx", function(d) { return x(d[0]); })
        .attr("cy", function(d) { return y(d[1]); })
        .attr("r", 0.85)
        .attr("fill", "#000");

    // panel title
    g.append("text")
        .attr("x", 55)
        .attr("y", -29)
        .attr("text-anchor", "middle")
        .attr("font-size", 14.5)
        .text(name);

    // y axis only on the left column
    if (i == 0 || i == 4) {
        var yAxis = d3.axisLeft(y).tickValues(yTicks).tickSize(0).tickPadding(5)
            .tickFormat(d3.format(".1f"));
        var ya = g.append("g").call(yAxis);
        ya.select(".domain").remove();
        ya.selectAll("text").attr("font-size", 11).attr("font-family", null).attr("dy", "0.36em");

        g.append("text")
            .attr("transform", "translate(-24.5," + (mainH / 2 + 1) + ") rotate(-90)")
            .attr("text-anchor", "middle")
            .attr("font-size", 12)
            .text("Center Y");
    }

    // x axis only on the second row
    if (row == 1) {
        var xAxis = d3.axisBottom(x).tickValues(xTicks).tickSize(0).tickPadding(4)
            .tickFormat(d3.format(".1f"));
        var xa = g.append("g")
            .attr("transform", "translate(0," + mainH + ")")
            .call(xAxis);
        xa.select(".domain").remove();
        xa.selectAll("text").attr("font-size", 11).attr("font-family", null);

        var cut = labelClip[i - 4];
        if (cut != null) {
            svg.append("clipPath").attr("id", "clip" + i)
                .append("rect")
                .attr("x", cut)
                .attr("y", 0)
                .attr("width", mainW + 30)
                .attr("height", 30);
            xa.attr("clip-path", "url(#clip" + i + ")");
        }

        g.append("text")
            .attr("x", mainW / 2)
            .attr("y", mainH + 26)
            .attr("text-anchor", "middle")
            .attr("font-size", 12)
            .text("Center X");
    }
});
</script>
</body>
</html>
